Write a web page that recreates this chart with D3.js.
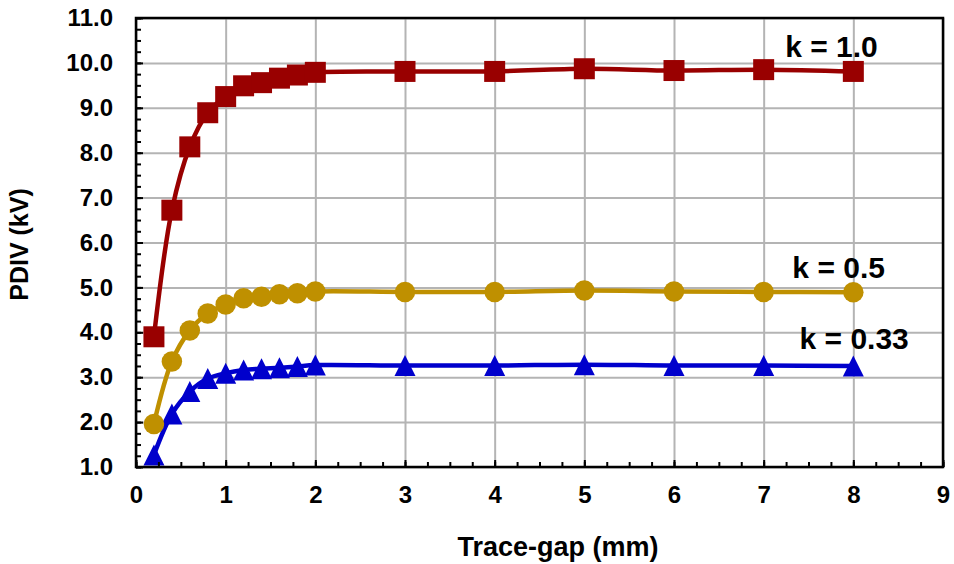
<!DOCTYPE html>
<html>
<head>
<meta charset="utf-8">
<script src="https://d3js.org/d3.v7.min.js"></script>
<style>
  body { margin: 0; background: #fff; }
  text { font-family: "Liberation Sans", Arial, sans-serif; font-weight: bold; }
</style>
</head>
<body>
<div id="svgcontainer"></div>
<script>
var width = 954;
var height = 564;

// trace-gap (mm)
var gaps = [0.2, 0.4, 0.6, 0.8, 1.0, 1.2, 1.4, 1.6, 1.8, 2, 3, 4, 5, 6, 7, 8];
// PDIV (kV) for each k
var pdivK10 = [3.90, 6.72, 8.13, 8.89, 9.25, 9.49, 9.56, 9.66, 9.73, 9.79, 9.81, 9.81, 9.87, 9.83, 9.85, 9.81];
var pdivK05 = [1.96, 3.35, 4.04, 4.42, 4.62, 4.76, 4.79, 4.85, 4.87, 4.91, 4.90, 4.90, 4.93, 4.91, 4.90, 4.89];
var pdivK033 = [1.27, 2.18, 2.68, 2.97, 3.09, 3.16, 3.19, 3.21, 3.24, 3.27, 3.26, 3.26, 3.28, 3.26, 3.26, 3.25];

var xTicks = [0, 1, 2, 3, 4, 5, 6, 7, 8, 9];
var yTicks = [1, 2, 3, 4, 5, 6, 7, 8, 9, 10, 11];

// label text and anchor point in data units
var labels = [
  { text: "k = 1.0", x: 7.24, y: 10.13 },
  { text: "k = 0.5", x: 7.32, y: 5.22 },
  { text: "k = 0.33", x: 7.40, y: 3.62 }
];

var margin = { top: 18, right: 11, bottom: 97, left: 136 };
var plotW = width - margin.left - margin.right;
var plotH = height - margin.top - margin.bottom;

var x = d3.scaleLinear().domain([0, 9]).range([0, plotW]);
var y = d3.scaleLinear().domain([1, 11]).range([plotH, 0]);

var svg = d3.select("#svgcontainer")
  .append("svg")
  .attr("width", width)
  .attr("height", height);

var g = svg.append("g")
  .attr("transform", "translate(" + margin.left + "," + margin.top + ")");

// grid
g.append("g")
  .attr("class", "grid")
  .call(d3.axisBottom(x).tickValues(xTicks).tickSize(plotH).tickFormat(""))
  .call(function (s) { s.select(".domain").remove(); });
g.append("g")
  .attr("class", "grid")
  .call(d3.axisLeft(y).tickValues(yTicks).tickSize(-plotW).tickFormat(""))
  .call(function (s) { s.select(".domain").remove(); });
g.selectAll(".grid line")
  .attr("stroke", "#b4b4b4")
  .attr("stroke-width", 2);

// series
var series = [
  { values: pdivK033, color: "#0000cc", shape: "triangle" },
  { values: pdivK05, color: "#bf9000", shape: "circle" },
  { values: pdivK10, color: "#990000", shape: "square" }
];

var line = d3.line()
  .x(function (d) { return x(d[0]); })
  .y(function (d) { return y(d[1]); })
  .curve(d3.curveCatmullRom.alpha(0.5));

var triangle = {
  draw: function (ctx, size) {
    var w = Math.sqrt(size);
    ctx.moveTo(0, -w / 2);
    ctx.lineTo(w / 2, w / 2);
    ctx.lineTo(-w / 2, w / 2);
    ctx.closePath();
  }
};

var shapes = {
  square: d3.symbol().type(d3.symbolSquare).size(441),
  circle: d3.symbol().type(d3.symbolCircle).size(330),
  triangle: d3.symbol().type(triangle).size(441)
};

series.forEach(function (s) {
  var pts = gaps.map(function (gp, i) { return [gp, s.values[i]]; });
  g.append("path")
    .attr("d", line(pts))
    .attr("fill", "none")
    .attr("stroke", s.color)
    .attr("stroke-width", 4.5);
  g.selectAll(null)
    .data(pts)
    .enter()
    .append("path")
    .attr("d", shapes[s.shape])
    .attr("transform", function (d) { return "translate(" + x(d[0]) + "," + y(d[1]) + ")"; })
    .attr("fill", s.color);
});

// frame
g.append("rect")
  .attr("width", plotW)
  .attr("height", plotH)
  .attr("fill", "none")
  .attr("stroke", "#000")
  .attr("stroke-width", 2.5);

// minor ticks (inward)
var xMinor = d3.range(0, 9.001, 0.25);
var yMinor = d3.range(1, 11.001, 0.25);
g.append("g")
  .attr("transform", "translate(0," + plotH + ")")
  .call(d3.axisBottom(x).tickValues(xMinor).tickSize(-5).tickFormat(""))
  .call(function (s) { s.select(".domain").remove(); });
g.append("g")
  .call(d3.axisLeft(y).tickValues(yMinor).tickSize(-5).tickFormat(""))
  .call(function (s) { s.select(".domain").remove(); });

// major ticks and labels
var xAxis = g.append("g")
  .attr("transform", "translate(0," + plotH + ")")
  .call(d3.axisBottom(x).tickValues(xTicks).tickSize(-7).tickPadding(19).tickFormat(d3.format("d")));
var yAxis = g.append("g")
  .call(d3.axisLeft(y).tickValues(yTicks).tickSize(-7).tickPadding(23).tickFormat(d3.format(".1f")));

[xAxis, yAxis].forEach(function (a) {
  a.select(".domain").remove();
  a.selectAll("text")
    .attr("fill", "#000")
    .style("font-size", "24px")
    .style("font-family", "Liberation Sans, Arial, sans-serif")
    .style("font-weight", "bold");
});
g.selectAll(".tick line").filter(function () { return !this.closest(".grid"); })
  .attr("stroke", "#000")
  .attr("stroke-width", 2);

// series labels
g.selectAll(".klabel")
  .data(labels)
  .enter()
  .append("text")
  .attr("class", "klabel")
  .attr("x", function (d) { return x(d.x); })
  .attr("y", function (d) { return y(d.y); })
  .style("font-size", "30px")
  .attr("fill", "#000")
  .text(function (d) { return d.text; });

// axis titles
svg.append("text")
  .attr("x", 558)
  .attr("y", 556)
  .attr("text-anchor", "middle")
  .style("font-size", "27px")
  .text("Trace-gap (mm)");

svg.append("text")
  .attr("transform", "translate(28," + (margin.top + y(6) + 2) + ") rotate(-90)")
  .attr("text-anchor", "middle")
  .style("font-size", "25px")
  .text("PDIV (kV)");
</script>
</body>
</html>
